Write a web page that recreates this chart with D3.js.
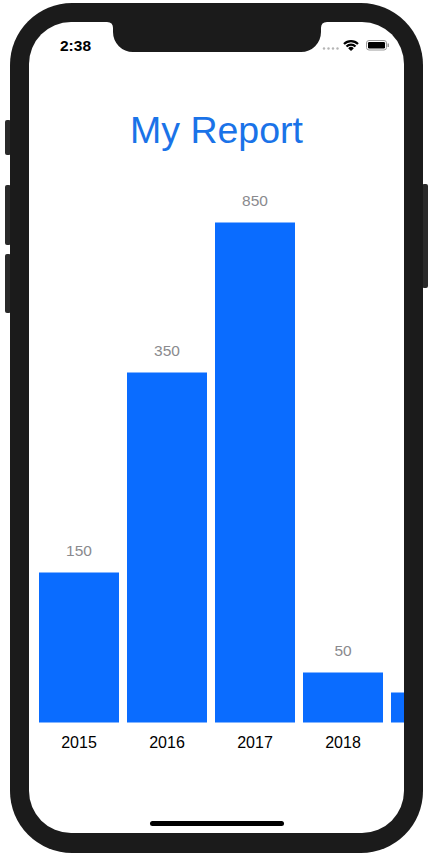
<!DOCTYPE html>
<html>
<head>
<meta charset="utf-8">
<script src="https://cdn.jsdelivr.net/npm/d3@7"></script>
<style>
  html, body { margin: 0; padding: 0; background: #fff; }
  svg { display: block; font-family: "Liberation Sans", Arial, Helvetica, sans-serif; }
</style>
</head>
<body>
<div id="chart"></div>
<script>
// chart data
const years = ['2015', '2016', '2017', '2018', '2019'];
const values = [150, 350, 850, 50, 30];
const title = 'My Report';
const clock = '2:38';

const width = 433;
const height = 854;
const barColor = '#0a6cff';
const titleColor = '#1a73e8';
const frameColor = '#1b1b1b';

const svg = d3.select('#chart').append('svg')
  .attr('width', width)
  .attr('height', height);

// phone frame + side buttons
const buttons = [
  { x: 5, y: 120, w: 6, h: 35 },
  { x: 5, y: 185, w: 6, h: 60 },
  { x: 5, y: 254, w: 6, h: 59 },
  { x: 422, y: 184, w: 6, h: 104 }
];
svg.selectAll('rect.button')
  .data(buttons)
  .enter()
  .append('rect')
  .attr('class', 'button')
  .attr('x', (d) => d.x)
  .attr('y', (d) => d.y)
  .attr('width', (d) => d.w)
  .attr('height', (d) => d.h)
  .attr('rx', 2)
  .attr('fill', '#2a2a2a');

svg.append('rect')
  .attr('x', 10).attr('y', 3)
  .attr('width', 413).attr('height', 850)
  .attr('rx', 62)
  .attr('fill', frameColor);

const screen = { x: 29, y: 22, w: 375, h: 811, r: 42 };

svg.append('defs').append('clipPath')
  .attr('id', 'screenClip')
  .append('rect')
  .attr('x', screen.x).attr('y', screen.y)
  .attr('width', screen.w).attr('height', screen.h)
  .attr('rx', screen.r);

svg.append('rect')
  .attr('x', screen.x).attr('y', screen.y)
  .attr('width', screen.w).attr('height', screen.h)
  .attr('rx', screen.r)
  .attr('fill', '#fff');

const content = svg.append('g').attr('clip-path', 'url(#screenClip)');

// notch
const notch = d3.path();
notch.moveTo(107, 22);
notch.quadraticCurveTo(113, 22, 113, 28);
notch.lineTo(113, 32);
notch.arcTo(113, 52, 133, 52, 20);
notch.lineTo(301, 52);
notch.arcTo(321, 52, 321, 32, 20);
notch.lineTo(321, 28);
notch.quadraticCurveTo(321, 22, 327, 22);
notch.closePath();
content.append('path').attr('d', notch.toString()).attr('fill', frameColor);

// status bar
content.append('text')
  .attr('x', 75.5).attr('y', 51)
  .attr('text-anchor', 'middle')
  .attr('font-size', '15.5px')
  .attr('font-weight', 'bold')
  .attr('fill', '#000')
  .text(clock);

content.selectAll('circle.signal')
  .data([0, 1, 2, 3])
  .enter()
  .append('circle')
  .attr('class', 'signal')
  .attr('cx', (d) => 324 + d * 4.5)
  .attr('cy', 48.5)
  .attr('r', 1.2)
  .attr('fill', '#b5b5b5');

const wifi = content.append('g').attr('transform', 'translate(351,51)');
[11, 7.5, 4].forEach((r) => {
  const arc = d3.arc()
    .innerRadius(r - 2.2)
    .outerRadius(r)
    .startAngle(-Math.PI / 4)
    .endAngle(Math.PI / 4);
  wifi.append('path').attr('d', arc()).attr('fill', '#000');
});
wifi.append('path')
  .attr('d', d3.arc().innerRadius(0).outerRadius(2.2).startAngle(-Math.PI / 4).endAngle(Math.PI / 4)())
  .attr('fill', '#000');

content.append('rect')
  .attr('x', 366.5).attr('y', 40.5)
  .attr('width', 20).attr('height', 9.5)
  .attr('rx', 2.5)
  .attr('fill', 'none')
  .attr('stroke', '#9a9a9a')
  .attr('stroke-width', 1);
content.append('rect')
  .attr('x', 368).attr('y', 42)
  .attr('width', 17).attr('height', 6.5)
  .attr('rx', 1.2)
  .attr('fill', '#000');
content.append('rect')
  .attr('x', 387.5).attr('y', 43.5)
  .attr('width', 1.5).attr('height', 3.5)
  .attr('fill', '#9a9a9a');

// title
content.append('text')
  .attr('x', 216.5).attr('y', 143)
  .attr('text-anchor', 'middle')
  .attr('font-size', '37.5px')
  .attr('fill', titleColor)
  .text(title);

// scales
const x = d3.scaleBand()
  .domain(years)
  .range([35, 475])
  .paddingInner(8 / 88)
  .paddingOuter(4 / 88);

const y = d3.scaleLinear()
  .domain([0, 500])
  .range([722.5, 222.5])
  .clamp(true);

const data = years.map((year, i) => ({ year, value: values[i] }));
// the last bar runs off the screen; its labels would sit outside it
const onScreen = (d) => x(d.year) + x.bandwidth() / 2 < screen.x + screen.w;

const bars = content.append('g');

bars.selectAll('rect.bar')
  .data(data)
  .enter()
  .append('rect')
  .attr('class', 'bar')
  .attr('x', (d) => x(d.year))
  .attr('y', (d) => y(d.value))
  .attr('width', x.bandwidth())
  .attr('height', (d) => y(0) - y(d.value))
  .attr('fill', barColor);

bars.selectAll('text.value')
  .data(data.filter(onScreen))
  .enter()
  .append('text')
  .attr('class', 'value')
  .attr('x', (d) => x(d.year) + x.bandwidth() / 2)
  .attr('y', (d) => y(d.value) - 16.5)
  .attr('text-anchor', 'middle')
  .attr('font-size', '15.5px')
  .attr('fill', '#8a8a8e')
  .text((d) => d.value);

const xAxis = d3.axisBottom(x)
  .tickValues(data.filter(onScreen).map((d) => d.year))
  .tickSize(0)
  .tickPadding(0);
const axisG = bars.append('g')
  .attr('transform', `translate(0, ${y(0)})`)
  .call(xAxis);
axisG.select('.domain').remove();
axisG.selectAll('text')
  .attr('dy', null)
  .attr('y', 25.5)
  .attr('font-size', '16px')
  .attr('font-family', '"Liberation Sans", Arial, Helvetica, sans-serif')
  .attr('fill', '#000');

// home indicator
content.append('rect')
  .attr('x', 150).attr('y', 821)
  .attr('width', 134).attr('height', 5)
  .attr('rx', 2.5)
  .attr('fill', '#000');
</script>
</body>
</html>
